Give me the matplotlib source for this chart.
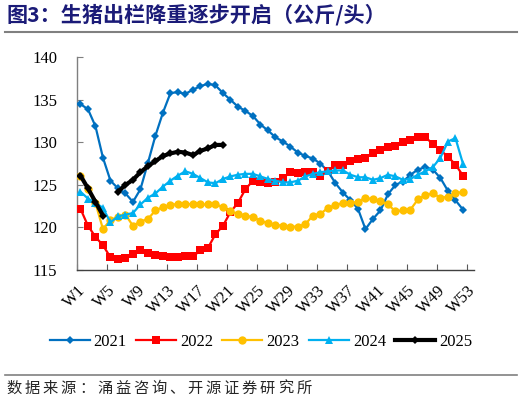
import numpy as np
import matplotlib
matplotlib.use('Agg')
import matplotlib.pyplot as plt
import matplotlib.transforms as mtransforms
from matplotlib.lines import Line2D

nan = np.nan

# ---------------- data ----------------
weeks = [f"W{i}" for i in range(1, 54)]
tick_weeks = list(range(1, 54, 4))          # W1, W5, ... W53
series_names = ["2021", "2022", "2023", "2024", "2025"]

y2021 = [134.5, 133.9, 131.9, 128.2, 125.5, 124.6, 124.0, 123.0, 124.5, 127.6,
         130.8, 133.5, 135.8, 135.9, 135.7, 136.2, 136.6, 136.9, 136.7, 135.8,
         135.0, 134.2, 133.7, 133.1, 132.1, 131.4, 130.6, 130.1, 129.5, 128.8,
         128.4, 128.1, 127.5, 126.6, 125.2, 124.1, 123.2, 122.2, 119.8, 121.0,
         122.0, 123.9, 125.0, 125.4, 126.2, 126.8, 127.1, 126.8, 125.8, 124.3,
         123.2, 122.1]
y2022 = [122.2, 120.2, 118.9, 117.9, 116.5, 116.3, 116.4, 116.9, 117.3, 117.0,
         116.8, 116.6, 116.5, 116.5, 116.7, 116.6, 117.3, 117.6, 119.2, 120.2,
         121.8, 122.9, 124.5, 125.5, 125.3, 125.2, 125.3, 125.8, 126.5, 126.4,
         126.5, 126.5, 126.0, 126.6, 127.3, 127.3, 127.8, 128.0, 128.2, 128.7,
         129.1, 129.4, 129.6, 130.1, 130.3, 130.6, 130.6, 129.8, 129.1, 128.3,
         127.4, 126.1]
y2023 = [126.1, 124.5, 122.9, 119.8, 120.9, 121.2, 121.5, 120.2, 120.7, 121.0,
         122.0, 122.4, 122.6, 122.8, 122.8, 122.7, 122.7, 122.7, 122.7, 122.4,
         121.9, 121.6, 121.4, 121.2, 120.8, 120.5, 120.3, 120.2, 120.1, 120.1,
         120.4, 121.4, 121.6, 122.3, 122.6, 122.9, 122.9, 123.0, 123.5, 123.3,
         123.1, 122.7, 121.9, 122.0, 122.1, 123.3, 123.8, 124.0, 123.5, 123.6,
         124.0, 124.2]
y2024 = [124.2, 123.4, 122.9, 122.3, 120.6, 121.3, 121.5, 121.7, 122.7, 123.5,
         124.0, 124.8, 125.5, 126.1, 126.6, 126.3, 125.8, 125.3, 125.2, 125.7,
         126.0, 126.2, 126.3, 126.3, 126.0, 125.7, 125.5, 125.3, 125.3, 125.5,
         126.0, 126.3, 126.5, 126.6, 126.7, 126.7, 126.2, 125.9, 125.9, 125.6,
         125.8, 126.2, 126.0, 125.6, 125.7, 126.2, 126.6, 127.1, 128.2, 130.1,
         130.5, 127.5]
y2025 = [126.1, 124.6, 123.0, 121.4, nan, 124.2, 125.0, 125.6, 126.5, 127.2,
         127.8, 128.4, 128.7, 128.9, 128.8, 128.5, 129.0, 129.3, 129.7, 129.7]

yticks = [115, 120, 125, 130, 135, 140]

title = "图3：生猪出栏降重逐步开启（公斤/头）"
source = "数据来源：涌益咨询、开源证券研究所"

# ---------------- figure ----------------
W, H = 522, 405
fig = plt.figure(figsize=(W / 100, H / 100), dpi=100)
fig.patch.set_facecolor("white")

ax = fig.add_axes([76.7 / W, 1 - 270 / H, (474.2 - 76.7) / W, (270 - 57.3) / H])

x = np.arange(1, len(weeks) + 1)


def full(v):
    return np.array(list(v) + [nan] * (len(weeks) - len(v)), dtype=float)


styles = [
    dict(color="#0070C0", marker="D", markersize=3.6, lw=1.6),
    dict(color="#FF0000", marker="s", markersize=5.2, lw=1.6),
    dict(color="#FFC000", marker="o", markersize=6.0, lw=1.6),
    dict(color="#00B0F0", marker="^", markersize=5.6, lw=1.6),
    dict(color="#000000", marker="D", markersize=3.6, lw=3.0),
]
data = [y2021, y2022, y2023, y2024, y2025]
handles = []
for name, vals, st in zip(series_names, data, styles):
    h, = ax.plot(x, full(vals), label=name, markeredgewidth=0, zorder=3, **st)
    handles.append(h)

serif = "Liberation Serif"
ax.set_xlim(0.5, len(weeks) + 0.5)
ax.set_ylim(yticks[0], yticks[-1])
ax.set_yticks(yticks)
ax.set_yticklabels([str(t) for t in yticks], fontsize=12, family=serif)
ax.tick_params(axis="y", direction="in", length=4, width=0.8, color="#7f7f7f", pad=14)

ax.set_xticks(tick_weeks)
ax.set_xticklabels([weeks[i - 1] for i in tick_weeks], fontsize=12, family=serif,
                   rotation=45, ha="right", va="center", rotation_mode="anchor")
ax.tick_params(axis="x", which="major", length=0, pad=13)
ax.set_xticks(np.arange(0.5, len(weeks), 4), minor=True)
ax.tick_params(axis="x", which="minor", direction="in", length=4, width=0.8, color="#595959")
offset = mtransforms.ScaledTranslation(3 / 100, 0, fig.dpi_scale_trans)
for lab in ax.get_xticklabels():
    lab.set_transform(lab.get_transform() + offset)

for s in ["top", "right"]:
    ax.spines[s].set_visible(False)
ax.spines["left"].set_color("#7f7f7f")
ax.spines["bottom"].set_color("#404040")
ax.spines["left"].set_linewidth(1.0)
ax.spines["bottom"].set_linewidth(1.0)

fig.legend(handles=handles, labels=series_names, loc="center", ncol=5,
           bbox_to_anchor=(0.5, 1 - 342 / H), frameon=False,
           prop={"family": serif, "size": 12},
           handlelength=2.4, handletextpad=0.25, columnspacing=0.55,
           borderaxespad=0, borderpad=0)

# title and rules
fig.text(6 / W, 1 - 15 / H, title, fontsize=15.2, fontweight="bold", color="#1B1B78",
         family=["Noto Sans CJK SC", "DejaVu Sans"], ha="left", va="center")
fig.add_artist(Line2D([5 / W, 517 / W], [1 - 31.7 / H] * 2, color="#808080", lw=1.5))
fig.add_artist(Line2D([5 / W, 517 / W], [1 - 375 / H] * 2, color="#808080", lw=1.2))

step = 18.1
for i, ch in enumerate(source):
    fig.text((6.5 + i * step) / W, 1 - 388.5 / H, ch, fontsize=11, color="#262626",
             family=["Noto Sans CJK SC", "DejaVu Sans"], ha="left", va="center")

fig.savefig("out.png", dpi=100, facecolor="white")
